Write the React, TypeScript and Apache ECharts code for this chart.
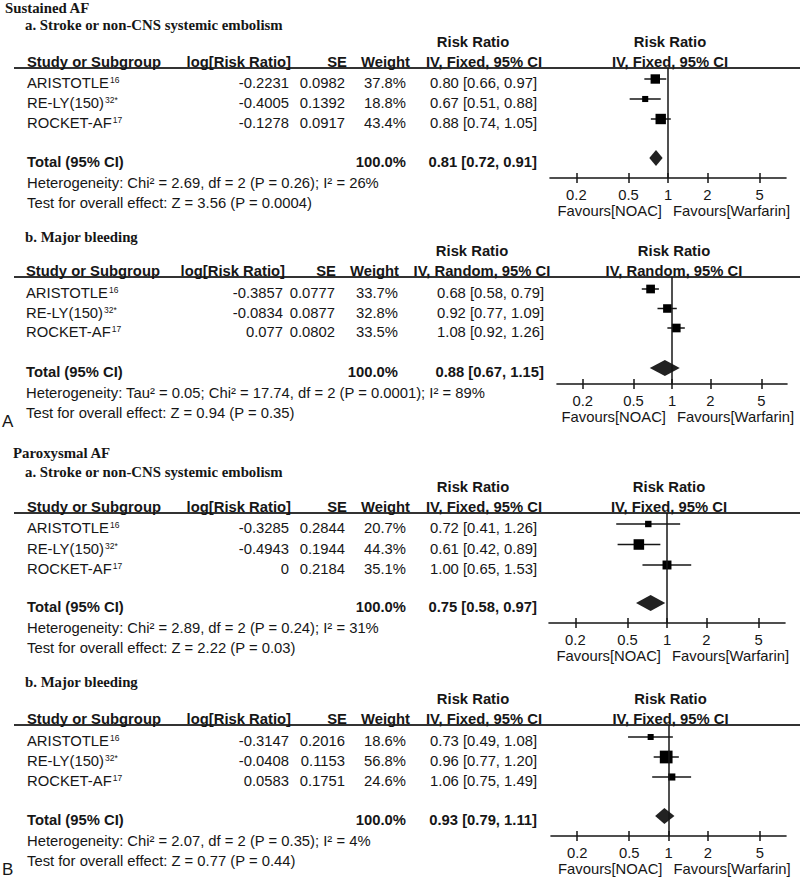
import React, { useEffect, useRef } from 'react';
import * as echarts from 'echarts';

// ---------------- data ----------------
const studyNames = ['ARISTOTLE', 'RE-LY(150)', 'ROCKET-AF'];
const studyRefs = ['16', '32*', '17'];

const sectionTitles = ['Sustained AF', 'Paroxysmal AF'];
const panelLetters = ['A', 'B'];
const outcomeTitles = [
  'a. Stroke or non-CNS systemic embolism',
  'b. Major bleeding',
  'a. Stroke or non-CNS systemic embolism',
  'b. Major bleeding',
];
const methods = ['IV, Fixed, 95% CI', 'IV, Random, 95% CI', 'IV, Fixed, 95% CI', 'IV, Fixed, 95% CI'];
const colHeaders = ['Study or Subgroup', 'log[Risk Ratio]', 'SE', 'Weight', 'Risk Ratio'];
const totalLabel = 'Total (95% CI)';
const totalWeight = '100.0%';

const tickValues = [0.2, 0.5, 1, 2, 5];
const tickLabels = ['0.2', '0.5', '1', '2', '5'];
const favoursLeft = 'Favours[NOAC]';
const favoursRight = 'Favours[Warfarin]';

// Panel 1: Sustained AF, stroke
const logRR1 = [-0.2231, -0.4005, -0.1278];
const se1 = [0.0982, 0.1392, 0.0917];
const weight1 = [37.8, 18.8, 43.4];
const rr1 = [0.8, 0.67, 0.88];
const lo1 = [0.66, 0.51, 0.74];
const hi1 = [0.97, 0.88, 1.05];
const total1 = [0.81, 0.72, 0.91];
const het1 = 'Heterogeneity: Chi² = 2.69, df = 2 (P = 0.26); I² = 26%';
const test1 = 'Test for overall effect: Z = 3.56 (P = 0.0004)';

// Panel 2: Sustained AF, bleeding
const logRR2 = [-0.3857, -0.0834, 0.077];
const se2 = [0.0777, 0.0877, 0.0802];
const weight2 = [33.7, 32.8, 33.5];
const rr2 = [0.68, 0.92, 1.08];
const lo2 = [0.58, 0.77, 0.92];
const hi2 = [0.79, 1.09, 1.26];
const total2 = [0.88, 0.67, 1.15];
const het2 = 'Heterogeneity: Tau² = 0.05; Chi² = 17.74, df = 2 (P = 0.0001); I² = 89%';
const test2 = 'Test for overall effect: Z = 0.94 (P = 0.35)';

// Panel 3: Paroxysmal AF, stroke
const logRR3 = [-0.3285, -0.4943, 0];
const se3 = [0.2844, 0.1944, 0.2184];
const weight3 = [20.7, 44.3, 35.1];
const rr3 = [0.72, 0.61, 1.0];
const lo3 = [0.41, 0.42, 0.65];
const hi3 = [1.26, 0.89, 1.53];
const total3 = [0.75, 0.58, 0.97];
const het3 = 'Heterogeneity: Chi² = 2.89, df = 2 (P = 0.24); I² = 31%';
const test3 = 'Test for overall effect: Z = 2.22 (P = 0.03)';

// Panel 4: Paroxysmal AF, bleeding
const logRR4 = [-0.3147, -0.0408, 0.0583];
const se4 = [0.2016, 0.1153, 0.1751];
const weight4 = [18.6, 56.8, 24.6];
const rr4 = [0.73, 0.96, 1.06];
const lo4 = [0.49, 0.77, 0.75];
const hi4 = [1.08, 1.2, 1.49];
const total4 = [0.93, 0.79, 1.11];
const het4 = 'Heterogeneity: Chi² = 2.07, df = 2 (P = 0.35); I² = 4%';
const test4 = 'Test for overall effect: Z = 0.77 (P = 0.44)';

const panels = [
  { logRR: logRR1, se: se1, weight: weight1, rr: rr1, lo: lo1, hi: hi1, total: total1, het: het1, test: test1 },
  { logRR: logRR2, se: se2, weight: weight2, rr: rr2, lo: lo2, hi: hi2, total: total2, het: het2, test: test2 },
  { logRR: logRR3, se: se3, weight: weight3, rr: rr3, lo: lo3, hi: hi3, total: total3, het: het3, test: test3 },
  { logRR: logRR4, se: se4, weight: weight4, rr: rr4, lo: lo4, hi: hi4, total: total4, het: het4, test: test4 },
];

// ---------------- layout / style ----------------
const INK = '#161616';
const FONT = '"Liberation Sans", Arial, Helvetica, sans-serif';
const SERIF = '"Liberation Serif", "Times New Roman", serif';
const FS = 14.8;
const XMIN = -0.9;
const XMAX = 0.9;

const COLS_A = { name: 27, lrr: 289, lrrH: 291, se: 345, seH: 347, w: 406, wH: 410, ci: 537, rrH: 473, ivH: 484 };
const COLS_B = { name: 26, lrr: 283, lrrH: 285, se: 335, seH: 336, w: 398, wH: 399, ci: 544, rrH: 472, ivH: 482 };

const LAYOUT = [
  { left: 550, right: 786, header: 68, row0: 79, step: 20, total: 158, axis: 178, sub: 25, cols: COLS_A },
  { left: 557, right: 787, header: 277, row0: 289, step: 19.5, total: 368, axis: 384, sub: 237, cols: COLS_B },
  { left: 549, right: 785, header: 513, row0: 524, step: 20.5, total: 603, axis: 623, sub: 472, cols: COLS_A },
  { left: 551, right: 786, header: 725, row0: 737, step: 20, total: 816, axis: 836, sub: 682, cols: COLS_A },
];
const SECTION_POS = [
  { x: 5, y: 8 },
  { x: 13, y: 453 },
];
const LETTER_POS = [
  { x: 2, y: 421 },
  { x: 2, y: 869 },
];

const tickLogs = tickValues.map((v) => Math.log10(v));

function txt(text: string, x: number, y: number, o: any = {}) {
  const size = o.size || FS;
  const family = o.family || FONT;
  const weight = o.bold ? 'bold ' : '';
  const align = o.align || 'left';
  return {
    type: 'text',
    x,
    y,
    silent: true,
    style: {
      text,
      fill: INK,
      font: `${weight}${size}px ${family}`,
      align,
      verticalAlign: 'middle',
      textAlign: align,
      textVerticalAlign: 'middle',
    },
  };
}

function studyLabel(name: string, ref: string, x: number, y: number) {
  return {
    type: 'text',
    x,
    y,
    silent: true,
    style: {
      text: `{n|${name}}{s|${ref}}`,
      fill: INK,
      font: `${FS}px ${FONT}`,
      align: 'left',
      verticalAlign: 'middle',
      textAlign: 'left',
      textVerticalAlign: 'middle',
      rich: {
        n: { fontSize: FS, fontFamily: FONT, fill: INK, color: INK },
        s: { fontSize: 8.5, fontFamily: FONT, fill: INK, color: INK, verticalAlign: 'top', padding: [0, 0, 0, 1] },
      },
    },
  };
}

function studyRender(params: any, api: any) {
  const y = api.value(3);
  const c = api.coord([api.value(0), y]);
  const l = api.coord([api.value(1), y]);
  const h = api.coord([api.value(2), y]);
  const s = 2.8 + 0.175 * api.value(4);
  return {
    type: 'group',
    children: [
      { type: 'line', shape: { x1: l[0], y1: l[1], x2: h[0], y2: h[1] }, style: { stroke: INK, lineWidth: 1.5 } },
      { type: 'rect', shape: { x: c[0] - s / 2, y: c[1] - s / 2, width: s, height: s }, style: { fill: '#000' } },
    ],
  };
}

function diamondRender(params: any, api: any) {
  const y = api.value(3);
  const c = api.coord([api.value(0), y]);
  const l = api.coord([api.value(1), y]);
  const h = api.coord([api.value(2), y]);
  const hh = 8;
  return {
    type: 'polygon',
    shape: { points: [[l[0], c[1]], [c[0], c[1] - hh], [h[0], c[1]], [c[0], c[1] + hh]] },
    style: { fill: '#222' },
  };
}

function buildOption() {
  const grid: any[] = [];
  const xAxis: any[] = [];
  const yAxis: any[] = [];
  const series: any[] = [];
  const elements: any[] = [];

  const labelFmt = (v: number) => {
    const i = tickLogs.findIndex((t) => Math.abs(t - v) < 1e-6);
    return i >= 0 ? tickLabels[i] : '';
  };

  sectionTitles.forEach((t, i) => {
    elements.push(txt(t, SECTION_POS[i].x, SECTION_POS[i].y, { bold: true, family: SERIF, size: 14.8 }));
  });
  panelLetters.forEach((t, i) => {
    elements.push(txt(t, LETTER_POS[i].x, LETTER_POS[i].y, { size: 17 }));
  });

  panels.forEach((P, p) => {
    const L = LAYOUT[p];
    const C = L.cols;
    const width = L.right - L.left;
    const x1 = L.left + (width * (0 - XMIN)) / (XMAX - XMIN);
    const yMin = (L.header - L.row0) / L.step;
    const yMax = (L.axis - L.row0) / L.step;
    const totalIdx = (L.total - L.row0) / L.step;

    grid.push({
      left: L.left,
      top: L.header,
      width,
      height: L.axis - L.header,
      containLabel: false,
      outerBoundsMode: 'none',
    });
    xAxis.push({
      type: 'value',
      gridIndex: p,
      min: XMIN,
      max: XMAX,
      position: 'bottom',
      axisLine: { show: true, onZero: false, lineStyle: { color: INK, width: 1.6 } },
      axisTick: { show: true, customValues: tickLogs, length: 5, lineStyle: { color: INK, width: 1.5 } },
      axisLabel: {
        show: true,
        customValues: tickLogs,
        formatter: labelFmt,
        margin: 9,
        color: INK,
        fontSize: FS,
        fontFamily: FONT,
      },
      splitLine: { show: false },
    });
    xAxis.push({
      type: 'value',
      gridIndex: p,
      min: XMIN,
      max: XMAX,
      position: 'bottom',
      axisLine: { show: false, onZero: false },
      axisTick: { show: true, inside: true, customValues: tickLogs, length: 5, lineStyle: { color: INK, width: 1.5 } },
      axisLabel: { show: false },
      splitLine: { show: false },
    });
    yAxis.push({ type: 'value', gridIndex: p, inverse: true, min: yMin, max: yMax, show: false });

    const rows = P.rr.map((v, i) => [Math.log10(v), Math.log10(P.lo[i]), Math.log10(P.hi[i]), i, P.weight[i]]);
    series.push({
      type: 'custom',
      name: 'studies' + p,
      xAxisIndex: 2 * p,
      yAxisIndex: p,
      silent: true,
      clip: false,
      encode: { x: [0, 1, 2], y: 3 },
      renderItem: studyRender,
      data: rows,
      markLine: {
        silent: true,
        symbol: ['none', 'none'],
        label: { show: false },
        lineStyle: { color: INK, width: 1.5, type: 'solid' },
        data: [{ xAxis: 0 }],
      },
    });
    series.push({
      type: 'custom',
      name: 'total' + p,
      xAxisIndex: 2 * p,
      yAxisIndex: p,
      silent: true,
      clip: false,
      encode: { x: [0, 1, 2], y: 3 },
      renderItem: diamondRender,
      data: [[Math.log10(P.total[0]), Math.log10(P.total[1]), Math.log10(P.total[2]), totalIdx]],
    });

    // header line
    elements.push({
      type: 'line',
      silent: true,
      shape: { x1: 14, y1: L.header, x2: 800, y2: L.header },
      style: { stroke: '#333', lineWidth: 1.8 },
    });

    // titles
    elements.push(txt(outcomeTitles[p], 25, L.sub, { bold: true, family: SERIF }));

    // column headers
    const hy = L.header - 6;
    const ry = L.header - 26;
    elements.push(txt(colHeaders[0], C.name, hy, { bold: true }));
    elements.push(txt(colHeaders[1], C.lrrH, hy, { bold: true, align: 'right' }));
    elements.push(txt(colHeaders[2], C.seH, hy, { bold: true, align: 'right' }));
    elements.push(txt(colHeaders[3], C.wH, hy, { bold: true, align: 'right' }));
    elements.push(txt(colHeaders[4], C.rrH, ry, { bold: true, align: 'center' }));
    elements.push(txt(methods[p], C.ivH, hy, { bold: true, align: 'center' }));
    elements.push(txt(colHeaders[4], x1 + 2, ry, { bold: true, align: 'center' }));
    elements.push(txt(methods[p], x1 + 2, hy, { bold: true, align: 'center' }));

    // study rows
    studyNames.forEach((nm, i) => {
      const y = L.row0 + i * L.step + 4;
      elements.push(studyLabel(nm, studyRefs[i], C.name, y));
      elements.push(txt(String(P.logRR[i]), C.lrr, y, { align: 'right' }));
      elements.push(txt(String(P.se[i]), C.se, y, { align: 'right' }));
      elements.push(txt(P.weight[i].toFixed(1) + '%', C.w, y, { align: 'right' }));
      elements.push(
        txt(`${P.rr[i].toFixed(2)} [${P.lo[i].toFixed(2)}, ${P.hi[i].toFixed(2)}]`, C.ci, y, { align: 'right' })
      );
    });

    // total
    const ty = L.total + 4;
    elements.push(txt(totalLabel, C.name, ty, { bold: true }));
    elements.push(txt(totalWeight, C.w, ty, { bold: true, align: 'right' }));
    elements.push(
      txt(`${P.total[0].toFixed(2)} [${P.total[1].toFixed(2)}, ${P.total[2].toFixed(2)}]`, C.ci, ty, {
        bold: true,
        align: 'right',
      })
    );
    elements.push(txt(P.het, C.name, ty + 20.5, {}));
    elements.push(txt(P.test, C.name, ty + 41, {}));

    // favours
    elements.push(txt(favoursLeft, x1 - 6, L.axis + 33, { align: 'right' }));
    elements.push(txt(favoursRight, x1 + 5, L.axis + 33, { align: 'left' }));
  });

  return {
    animation: false,
    backgroundColor: '#ffffff',
    grid,
    xAxis,
    yAxis,
    series,
    graphic: { elements },
  };
}

export default function App() {
  const ref = useRef<HTMLDivElement>(null);
  useEffect(() => {
    document.body.style.margin = '0';
    document.body.style.overflow = 'hidden';
    if (!ref.current) return;
    const chart = echarts.init(ref.current, undefined, { renderer: 'svg' });
    chart.setOption(buildOption() as any);
    return () => {
      chart.dispose();
    };
  }, []);
  return <div ref={ref} style={{ width: 800, height: 878, background: '#fff' }} />;
}
